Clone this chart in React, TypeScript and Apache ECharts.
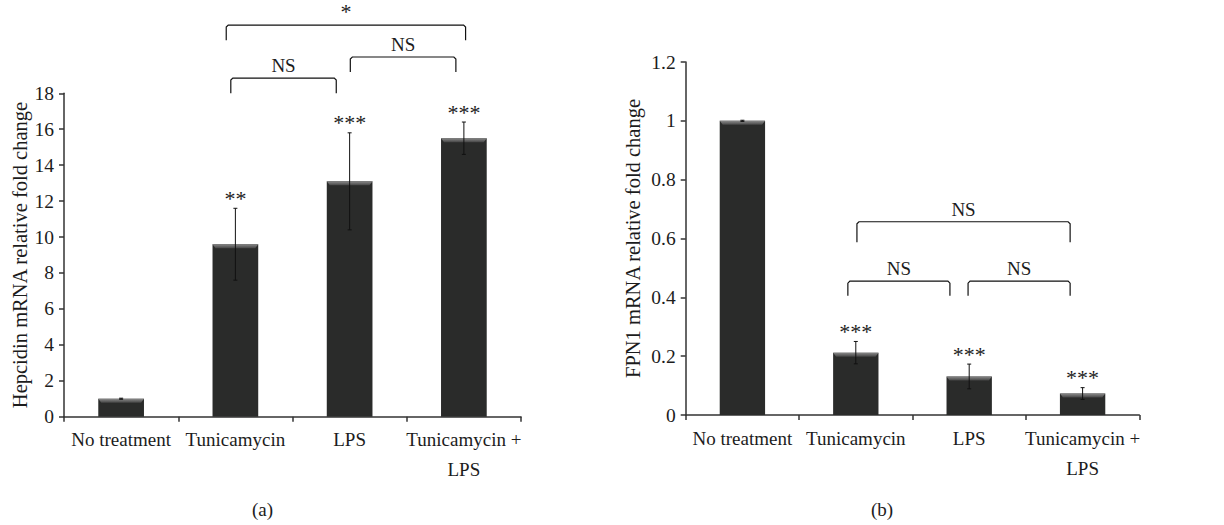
import React, { useEffect, useRef } from "react";
import * as echarts from "echarts";

const categories = ["No treatment", "Tunicamycin", "LPS", "Tunicamycin +\nLPS"];

const hepcidinMean = [1.0, 9.6, 13.1, 15.5];
const hepcidinErr = [0.03, 2.0, 2.7, 0.9];
const hepcidinStars = ["", "**", "***", "***"];

const fpn1Mean = [1.0, 0.212, 0.131, 0.073];
const fpn1Err = [0.002, 0.038, 0.042, 0.02];
const fpn1Stars = ["", "***", "***", "***"];

// brackets: [left position (category units), right position, top value, leg-end value]
const hepcidinBrackets = [
  [0.92, 3.015, 21.8, 20.95],
  [0.96, 1.883, 18.85, 18.0],
  [2.006, 2.93, 20.02, 19.18],
];
const hepcidinBracketLabels = ["*", "NS", "NS"];

const fpn1Brackets = [
  [1.01, 2.89, 0.657, 0.587],
  [0.93, 1.83, 0.455, 0.405],
  [1.99, 2.89, 0.455, 0.405],
];
const fpn1BracketLabels = ["NS", "NS", "NS"];

const hepcidinAxis = { min: 0, max: 18, interval: 2 };
const fpn1Axis = { min: 0, max: 1.2, interval: 0.2 };

const FONT = "'Liberation Serif', 'Times New Roman', serif";
const TEXT = "#1c1c1c";
const AXIS = "#333333";
const BAR = "#2a2b2a";

function barSeries(idx: number, means: number[]) {
  return {
    type: "bar",
    xAxisIndex: idx,
    yAxisIndex: idx,
    data: means,
    barWidth: "40%",
    itemStyle: { color: BAR },
    z: 2,
  };
}

function bevelSeries(idx: number, means: number[]) {
  return {
    type: "custom",
    xAxisIndex: idx,
    yAxisIndex: idx,
    data: means.map((m, i) => [i, m]),
    z: 3,
    renderItem: (params: any, api: any) => {
      const i = params.dataIndex;
      const p = api.coord([i, means[i]]);
      const w = api.size([1, 0])[0] * 0.4;
      const x0 = p[0] - w / 2;
      const x1 = p[0] + w / 2;
      const y = p[1];
      return {
        type: "polygon",
        shape: {
          points: [
            [x0, y],
            [x1, y],
            [x1 - 3, y + 4],
            [x0 + 3, y + 4],
          ],
        },
        style: {
          fill: new echarts.graphic.LinearGradient(0, 0, 0, 1, [
            { offset: 0, color: "#8a8a8a" },
            { offset: 1, color: "#454545" },
          ]),
        },
      };
    },
  };
}

function errorSeries(idx: number, means: number[], errs: number[], stars: string[]) {
  return {
    type: "custom",
    xAxisIndex: idx,
    yAxisIndex: idx,
    data: means.map((m, i) => [i, m]),
    z: 4,
    clip: false,
    renderItem: (params: any, api: any) => {
      const i = params.dataIndex;
      const top = api.coord([i, means[i] + errs[i]]);
      const bot = api.coord([i, means[i] - errs[i]]);
      const x = top[0];
      const cap = 2;
      const children: any[] = [
        { type: "line", shape: { x1: x, y1: top[1], x2: x, y2: bot[1] }, style: { stroke: "#111", lineWidth: 1 } },
        { type: "line", shape: { x1: x - cap, y1: top[1], x2: x + cap, y2: top[1] }, style: { stroke: "#111", lineWidth: 1 } },
        { type: "line", shape: { x1: x - cap, y1: bot[1], x2: x + cap, y2: bot[1] }, style: { stroke: "#111", lineWidth: 1 } },
      ];
      if (stars[i]) {
        children.push({
          type: "text",
          style: {
            text: stars[i],
            x: x,
            y: top[1] + 1,
            align: "center",
            verticalAlign: "bottom",
            fontSize: 22,
            fontFamily: FONT,
            fill: TEXT,
          },
        });
      }
      return { type: "group", children };
    },
  };
}

function bracketSeries(idx: number, brackets: number[][], labels: string[]) {
  return {
    type: "custom",
    xAxisIndex: idx,
    yAxisIndex: idx,
    data: brackets.map(() => [0, 0]),
    z: 5,
    clip: false,
    renderItem: (params: any, api: any) => {
      const b = brackets[params.dataIndex];
      const band = api.size([1, 0])[0];
      const origin = api.coord([0, 0])[0];
      const xl = origin + b[0] * band;
      const xr = origin + b[1] * band;
      const yt = api.coord([0, b[2]])[1];
      const yb = api.coord([0, b[3]])[1];
      const r = 2;
      return {
        type: "group",
        children: [
          {
            type: "polyline",
            shape: {
              points: [
                [xl, yb],
                [xl, yt + r],
                [xl + r, yt],
                [xr - r, yt],
                [xr, yt + r],
                [xr, yb],
              ],
            },
            style: { stroke: "#111", lineWidth: 1.2, fill: null },
          },
          {
            type: "text",
            style: {
              text: labels[params.dataIndex],
              x: (xl + xr) / 2,
              y: yt - 3,
              align: "center",
              verticalAlign: "bottom",
              fontSize: labels[params.dataIndex] === "*" ? 22 : 19,
              fontFamily: FONT,
              fill: TEXT,
            },
          },
        ],
      };
    },
  };
}

function xAxisDef(idx: number) {
  return {
    type: "category",
    gridIndex: idx,
    data: categories,
    axisLine: { lineStyle: { color: AXIS, width: 1.5 } },
    axisTick: { show: true, length: 5, lineStyle: { color: AXIS, width: 1.5 } },
    axisLabel: {
      interval: 0,
      margin: 8,
      color: TEXT,
      fontSize: 19,
      fontFamily: FONT,
      lineHeight: 30,
    },
    splitLine: { show: false },
  };
}

function yAxisDef(idx: number, ax: any, name: string, gap: number, fmt: (v: number) => string) {
  return {
    type: "value",
    gridIndex: idx,
    min: ax.min,
    max: ax.max,
    interval: ax.interval,
    name,
    nameLocation: "middle",
    nameRotate: 90,
    nameGap: gap,
    nameTextStyle: { color: TEXT, fontSize: 20.5, fontFamily: FONT },
    axisLine: { show: true, lineStyle: { color: AXIS, width: 1.5 } },
    axisTick: { show: true, length: 5, lineStyle: { color: AXIS, width: 1.5 } },
    axisLabel: { margin: 10, color: TEXT, fontSize: 19.5, fontFamily: FONT, formatter: fmt },
    splitLine: { show: false },
  };
}

export default function App() {
  const ref = useRef<HTMLDivElement>(null);
  useEffect(() => {
    if (!ref.current) return;
    const chart = echarts.init(ref.current, null, { renderer: "svg" });
    chart.setOption({
      animation: false,
      backgroundColor: "#ffffff",
      textStyle: { fontFamily: FONT },
      grid: [
        { left: 64, top: 93.3, width: 457, height: 323.4 },
        { left: 685.7, top: 62, width: 453.6, height: 353 },
      ],
      xAxis: [xAxisDef(0), xAxisDef(1)],
      yAxis: [
        yAxisDef(0, hepcidinAxis, "Hepcidin mRNA relative fold change", 30, (v: number) => String(v)),
        yAxisDef(1, fpn1Axis, "FPN1 mRNA relative fold change", 42, (v: number) => String(+v.toFixed(1))),
      ],
      series: [
        barSeries(0, hepcidinMean),
        bevelSeries(0, hepcidinMean),
        errorSeries(0, hepcidinMean, hepcidinErr, hepcidinStars),
        bracketSeries(0, hepcidinBrackets, hepcidinBracketLabels),
        barSeries(1, fpn1Mean),
        bevelSeries(1, fpn1Mean),
        errorSeries(1, fpn1Mean, fpn1Err, fpn1Stars),
        bracketSeries(1, fpn1Brackets, fpn1BracketLabels),
      ],
      graphic: [
        {
          type: "text",
          left: 252,
          top: 500,
          style: { text: "(a)", fontSize: 19, fontFamily: FONT, fill: TEXT },
        },
        {
          type: "text",
          left: 871,
          top: 500,
          style: { text: "(b)", fontSize: 19, fontFamily: FONT, fill: TEXT },
        },
      ],
    });
    return () => chart.dispose();
  }, []);
  return (
    <div
      ref={ref}
      style={{ position: "absolute", left: 0, top: 0, width: 1224, height: 525, background: "#fff" }}
    />
  );
}
